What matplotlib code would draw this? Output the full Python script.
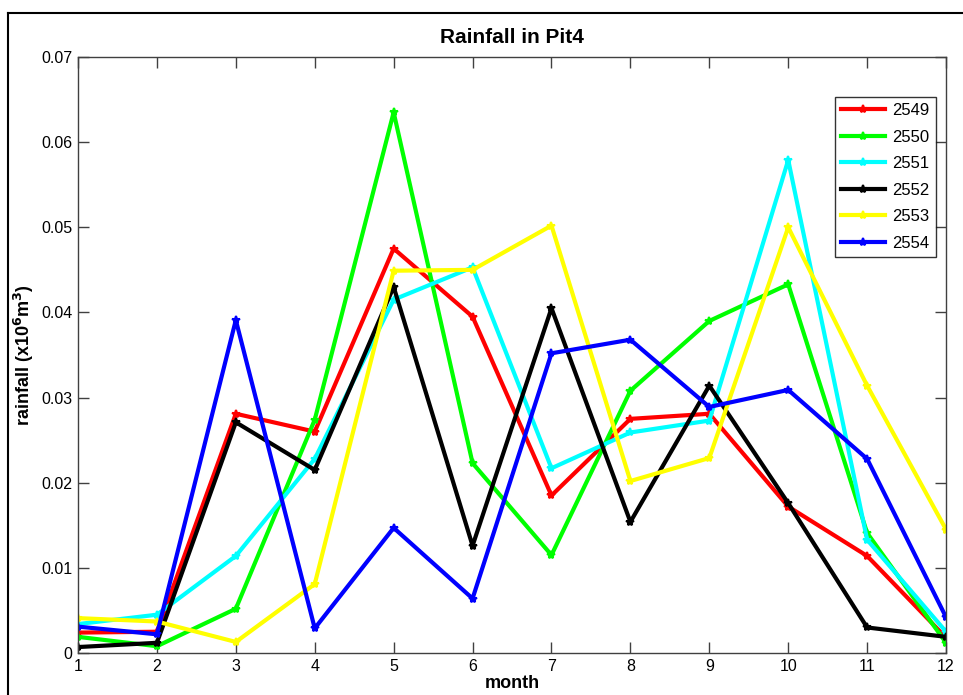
import matplotlib
matplotlib.use("Agg")
import matplotlib.pyplot as plt
from matplotlib.lines import Line2D

plt.rcParams['font.family'] = ['Liberation Sans', 'DejaVu Sans']
plt.rcParams['mathtext.default'] = 'bf'

months = list(range(1, 13))

rain_2549 = [0.0024, 0.0025, 0.0281, 0.0260, 0.0475, 0.0395, 0.0185, 0.0275, 0.0281, 0.0172, 0.0114, 0.0018]
rain_2550 = [0.0019, 0.0008, 0.0052, 0.0274, 0.0635, 0.0223, 0.0115, 0.0308, 0.0390, 0.0433, 0.0141, 0.0012]
rain_2551 = [0.0034, 0.0045, 0.0114, 0.0228, 0.0415, 0.0453, 0.0217, 0.0259, 0.0273, 0.0579, 0.0133, 0.0025]
rain_2552 = [0.0007, 0.0012, 0.0271, 0.0215, 0.0430, 0.0126, 0.0405, 0.0154, 0.0314, 0.0176, 0.0030, 0.0019]
rain_2553 = [0.0041, 0.0037, 0.0013, 0.0081, 0.0449, 0.0450, 0.0502, 0.0202, 0.0229, 0.0500, 0.0314, 0.0145]
rain_2554 = [0.0031, 0.0022, 0.0391, 0.0029, 0.0147, 0.0064, 0.0352, 0.0368, 0.0289, 0.0309, 0.0228, 0.0042]

series_labels = ['2549', '2550', '2551', '2552', '2553', '2554']
series_colors = ['#ff0000', '#00ff00', '#00ffff', '#000000', '#ffff00', '#0000ff']
series_values = [rain_2549, rain_2550, rain_2551, rain_2552, rain_2553, rain_2554]

fig = plt.figure(figsize=(9.63, 6.95), dpi=100)
ax = fig.add_axes([0.081, 0.0604, 0.9014, 0.8576])

for vals, col, lab in zip(series_values, series_colors, series_labels):
    ax.plot(months, vals, color=col, linewidth=3, marker='*', markersize=6,
            markeredgewidth=1.5, label=lab)

ax.set_xlim(1, 12)
ax.set_ylim(0, 0.07)
ax.set_xticks(months)
ax.set_yticks([0, 0.01, 0.02, 0.03, 0.04, 0.05, 0.06, 0.07])
ax.set_yticklabels(['0', '0.01', '0.02', '0.03', '0.04', '0.05', '0.06', '0.07'])
ax.tick_params(direction='in', length=8, width=1, color='#404040',
               top=True, right=True, labelsize=11.5, pad=4)
for s in ax.spines.values():
    s.set_color('#404040')
    s.set_linewidth(1)

ax.set_title('Rainfall in Pit4', fontsize=15, fontweight='bold', pad=10)
ax.set_xlabel('month', fontsize=13, fontweight='bold', labelpad=1)
ax.set_ylabel('rainfall (x10$^{6}$m$^{3}$)', fontsize=13,
              fontweight='bold', labelpad=4)

leg = ax.legend(loc='upper right', bbox_to_anchor=(0.988, 0.933),
                borderaxespad=0, fontsize=12, frameon=True, fancybox=False,
                handlelength=2.6, labelspacing=0.69, handletextpad=0.45,
                borderpad=0.38)
leg.get_frame().set_edgecolor('black')
leg.get_frame().set_linewidth(1)

# outer frame lines
fig.add_artist(Line2D([0.0083, 0.0083], [0.0, 0.9813], color='black', linewidth=1.5,
                      transform=fig.transFigure))
fig.add_artist(Line2D([0.0083, 1.0], [0.9813, 0.9813], color='black', linewidth=1.5,
                      transform=fig.transFigure))

fig.savefig('out.png', dpi=100)
